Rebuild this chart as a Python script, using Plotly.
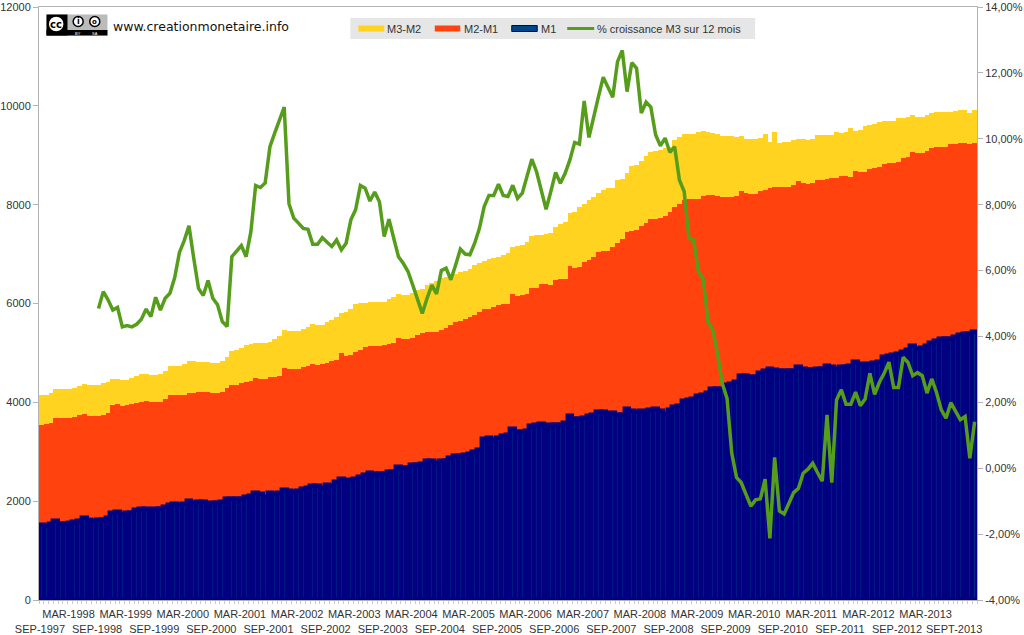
import numpy as np
import plotly.graph_objects as go

# niveaux, un point par mois depuis sep-1997
m1 = [1518,1498,1532,1592,1532,1532,1559,1579,1592,1653,
      1619,1599,1613,1626,1667,1754,1775,1741,1761,1768,
      1815,1842,1842,1815,1842,1842,1876,1930,1950,1930,
      1943,1997,1964,1984,1984,1950,1970,1970,1977,2038,
      2051,2051,2051,2078,2112,2159,2146,2085,2159,2139,
      2173,2233,2206,2193,2206,2240,2260,2314,2301,2267,
      2335,2314,2382,2456,2416,2429,2456,2490,2523,2577,
      2551,2551,2557,2584,2591,2692,2665,2665,2726,2739,
      2753,2807,2807,2766,2820,2820,2874,2921,2921,2928,
      2962,2996,3030,3266,3286,3232,3279,3313,3333,3455,
      3407,3407,3414,3515,3536,3556,3509,3542,3542,3536,
      3583,3725,3657,3657,3684,3725,3753,3800,3806,3725,
      3792,3752,3752,3860,3820,3806,3826,3806,3840,3873,
      3820,3772,3840,3907,3921,4028,4049,4076,4130,4157,
      4197,4278,4278,4278,4345,4379,4413,4528,4528,4514,
      4507,4595,4629,4683,4663,4642,4636,4636,4636,4717,
      4683,4649,4663,4683,4683,4737,4710,4683,4717,4717,
      4730,4818,4784,4750,4784,4798,4818,4919,4933,4953,
      4987,5020,5054,5142,5088,5101,5142,5202,5236,5277,
      5283,5290,5324,5371,5378,5378,5415]

m2 = [3545,3565,3590,3690,3680,3677,3680,3710,3735,3764,
      3724,3724,3724,3740,3791,3940,3960,3926,3940,3966,
      3993,4015,4020,4000,4000,4010,4060,4149,4149,4149,
      4149,4196,4185,4210,4210,4203,4183,4190,4210,4297,
      4351,4360,4390,4419,4440,4500,4480,4473,4507,4515,
      4540,4696,4669,4672,4680,4709,4736,4776,4763,4770,
      4803,4830,4860,5000,4945,4960,5013,5060,5114,5148,
      5145,5148,5160,5175,5195,5303,5290,5283,5300,5363,
      5397,5420,5431,5425,5465,5500,5560,5633,5650,5680,
      5720,5770,5830,5883,5895,5925,5960,5990,6000,6187,
      6153,6165,6200,6308,6310,6396,6385,6376,6477,6490,
      6495,6767,6713,6730,6848,6880,6950,7050,7060,7065,
      7151,7219,7307,7455,7470,7489,7560,7624,7705,7720,
      7740,7772,7860,7950,8015,8090,8109,8109,8120,8177,
      8197,8190,8177,8165,8163,8165,8177,8285,8240,8217,
      8217,8285,8300,8345,8350,8360,8366,8366,8400,8480,
      8440,8426,8440,8494,8500,8528,8535,8548,8582,8575,
      8568,8690,8656,8660,8723,8740,8770,8825,8835,8852,
      8855,8939,8973,9061,9040,9040,9094,9141,9175,9165,
      9175,9222,9230,9250,9250,9229,9250]

m3 = [4149,4155,4180,4264,4264,4264,4275,4300,4331,4372,
      4358,4358,4345,4385,4412,4473,4473,4459,4459,4500,
      4540,4567,4567,4554,4554,4574,4628,4729,4729,4736,
      4776,4830,4830,4817,4817,4817,4803,4803,4830,4918,
      5040,5060,5100,5154,5180,5208,5208,5208,5230,5276,
      5350,5458,5438,5438,5450,5490,5532,5579,5566,5570,
      5630,5660,5735,5815,5830,5883,5984,6018,6018,6030,
      6038,6038,6038,6085,6126,6193,6180,6166,6220,6274,
      6300,6376,6420,6450,6510,6540,6580,6598,6630,6660,
      6700,6770,6815,6870,6895,6915,6950,6985,7020,7138,
      7160,7185,7250,7367,7385,7395,7410,7435,7556,7600,
      7640,7826,7860,7950,8015,8096,8150,8243,8298,8333,
      8340,8501,8510,8642,8784,8800,8885,8993,9073,9085,
      9100,9148,9170,9310,9377,9425,9425,9428,9475,9492,
      9472,9450,9432,9398,9391,9385,9364,9398,9331,9328,
      9324,9340,9432,9276,9465,9256,9260,9276,9300,9337,
      9320,9310,9337,9412,9412,9412,9412,9465,9445,9480,
      9546,9499,9510,9594,9610,9640,9681,9690,9700,9700,
      9745,9762,9770,9810,9776,9783,9820,9864,9884,9875,
      9884,9880,9900,9917,9917,9850,9917]

# croissance M3 sur 12 mois, en %, commence en sep-1998
growth = [None]*12 + [
      4.85,5.36,5.11,4.80,4.88,4.29,4.33,4.29,4.37,4.52,
      4.83,4.60,5.19,4.80,5.16,5.31,5.79,6.55,6.91,7.36,
      6.37,5.46,5.24,5.70,5.16,4.96,4.45,4.30,6.42,6.58,
      6.76,6.42,7.18,8.58,8.52,8.66,9.76,10.17,10.57,10.96,
      8.03,7.59,7.44,7.28,7.25,6.80,6.80,7.00,6.86,6.73,
      6.93,6.63,6.83,7.54,7.85,8.58,8.50,8.11,8.38,8.09,
      7.03,7.56,6.98,6.42,6.22,5.97,5.56,5.11,4.70,5.16,
      5.56,5.29,6.00,6.07,5.72,6.17,6.65,6.50,6.48,6.83,
      7.28,7.94,8.28,8.28,8.62,8.28,8.25,8.59,8.19,8.35,
      8.85,9.38,9.00,8.40,7.86,8.40,8.98,8.65,8.95,9.36,
      9.89,9.84,11.15,10.04,10.72,11.28,11.87,11.58,11.26,12.34,
      12.68,11.43,12.31,12.14,10.78,11.11,10.96,10.12,9.79,10.02,
      9.59,9.76,8.75,8.40,6.98,6.93,5.97,5.75,4.45,4.20,
      3.49,2.58,2.12,0.45,-0.28,-0.44,-0.81,-1.15,-0.96,-0.93,
      -0.33,-2.13,0.33,-1.30,-1.39,-1.09,-0.74,-0.61,-0.15,-0.03,
      0.15,-0.13,-0.39,1.62,-0.44,2.07,2.38,1.94,1.94,2.31,
      1.90,2.10,2.88,2.24,2.61,2.88,3.22,2.45,2.45,3.37,
      3.21,2.81,2.90,2.81,2.28,2.71,2.30,1.77,1.52,1.99,
      1.72,1.47,1.57,0.30,1.41]

date_labels = ["SEP-1997","MAR-1998","SEP-1998","MAR-1999","SEP-1999","MAR-2000","SEP-2000",
               "MAR-2001","SEP-2001","MAR-2002","SEP-2002","MAR-2003","SEP-2003","MAR-2004",
               "SEP-2004","MAR-2005","SEP-2005","MAR-2006","SEP-2006","MAR-2007","SEP-2007",
               "MAR-2008","SEP-2008","MAR-2009","SEP-2009","MAR-2010","SEP-2010","MAR-2011",
               "SEP-2011","MAR-2012","SEP-2012","MAR-2013","SEPT-2013"]
left_ticks = [0,2000,4000,6000,8000,10000,12000]
left_labels = ["0","2000","4000","6000","8000","10000","12000"]
right_ticks = [-4,-2,0,2,4,6,8,10,12,14]
right_labels = ["-4,00%","-2,00%","0,00%","2,00%","4,00%","6,00%","8,00%","10,00%","12,00%","14,00%"]

YELLOW = "#ffd320"
ORANGE = "#ff420e"
BLUE = "#004586"
NAVY = "#000080"
GREEN = "#579d1c"
GREY = "#b3b3b3"
TEXT = "#333333"
FONT = "Liberation Sans"

months = list(range(len(m1)))
m1_arr, m2_arr, m3_arr = np.array(m1), np.array(m2), np.array(m3)

# tick text on two rows: september labels go on the lower one
tick_text = [("<br>" + t) if t.startswith("SEP") else t for t in date_labels]
# labels sit a little left of the bar centre in the original
tick_pos = [m - 0.3 for m in months[::6]]

L, R, T, B = 38.5, 977.0, 7.0, 600.0

def px(x):
    return (x - L) / (R - L)

def py(y):
    return (B - y) / (B - T)

fig = go.Figure()
fig.add_trace(go.Bar(x=months, y=m3_arr - m2_arr, base=m2, name="M3-M2", width=1,
                     marker=dict(color=YELLOW, line=dict(width=0))))
fig.add_trace(go.Bar(x=months, y=m2_arr - m1_arr, base=m1, name="M2-M1", width=1,
                     marker=dict(color=ORANGE, line=dict(width=0))))
fig.add_trace(go.Bar(x=months, y=m1, name="M1", width=1, cliponaxis=False,
                     marker=dict(color=BLUE, line=dict(width=4.4, color=NAVY))))
fig.add_trace(go.Scatter(x=months, y=growth, name="% croissance M3 sur 12 mois", yaxis="y2",
                         mode="lines", line=dict(color=GREEN, width=3.5)))

shapes = []
annots = []

def rect(x0, y0, x1, y1, fill, line=None):
    shapes.append(dict(type="rect", xref="paper", yref="paper", x0=px(x0), x1=px(x1), y0=py(y0), y1=py(y1),
                       fillcolor=fill, line=dict(width=1 if line else 0, color=line or fill)))

def circle(cx, cy, r, fill, line):
    shapes.append(dict(type="circle", xref="paper", yref="paper", x0=px(cx-r), x1=px(cx+r), y0=py(cy-r), y1=py(cy+r),
                       fillcolor=fill, line=dict(width=1.5, color=line)))

def label(x, y, text, size=11, color=TEXT, family=FONT, anchor="left"):
    annots.append(dict(xref="paper", yref="paper", x=px(x), y=py(y), text=text, showarrow=False, xanchor=anchor,
                       yanchor="middle", font=dict(size=size, color=color, family=family),
                       borderpad=0, borderwidth=0))

# legend box
rect(350, 18, 755, 39, "#e6e6e6")
rect(358, 25.5, 384, 31.5, YELLOW)
label(387, 28.5, "M3-M2")
rect(434.5, 25.5, 460, 31.5, ORANGE)
label(464, 28.5, "M2-M1")
rect(511.5, 25.5, 537, 31.5, BLUE, NAVY)
label(540.5, 28.5, "M1")
rect(567, 27, 594, 30, GREEN)
label(596.5, 28.5, "% croissance M3 sur 12 mois")

# licence badge + site
rect(46, 14.5, 107, 35.5, "#b9bcb8")
rect(46, 30, 107, 35.5, "#000000")
rect(46, 14.5, 67, 35.5, "#000000")
circle(55.7, 24, 8, "#ffffff", "#000000")
label(55.7, 24, "<b>cc</b>", size=10, color="#000000", family="DejaVu Sans", anchor="center")
circle(77.7, 21.5, 5, "#ffffff", "#000000")
label(77.7, 21.5, "<b>i</b>", size=8, color="#000000", family="DejaVu Sans", anchor="center")
circle(94.3, 21.5, 5, "#ffffff", "#000000")
label(94.3, 21.5, "<b>o</b>", size=7, color="#000000", family="DejaVu Sans", anchor="center")
label(77.7, 33, "BY", size=4, color="#ffffff", anchor="center")
label(94.3, 33, "SA", size=4, color="#ffffff", anchor="center")
label(112.5, 27, "www.creationmonetaire.info", size=12.5, color="#111111", family="DejaVu Sans")

fig.update_layout(
    width=1024, height=635,
    margin=dict(l=L, r=1024-R, t=T, b=635-B, pad=0, autoexpand=False),
    paper_bgcolor="white", plot_bgcolor="white",
    barmode="overlay", bargap=0, showlegend=False,
    font=dict(family=FONT, size=11, color=TEXT),
    shapes=shapes, annotations=annots,
    xaxis=dict(range=[-0.5, len(m1)-0.5], tickmode="array", tickvals=tick_pos, ticktext=tick_text,
               tickangle=0, ticks="", showgrid=False, zeroline=False, automargin=False, ticklabelstandoff=4,
               showline=True, linecolor=GREY, linewidth=1, mirror=True,
               minor=dict(tickmode="linear", tick0=-0.5, dtick=1, ticks="outside", ticklen=3, tickcolor="#cccccc", showgrid=False)),
    yaxis=dict(range=[0, 12000], tickmode="array", tickvals=left_ticks, ticktext=left_labels, ticks="outside", ticklen=5,
               tickcolor=GREY, showgrid=False, zeroline=False, showline=True, linecolor=GREY, linewidth=1, automargin=False),
    yaxis2=dict(range=[-4, 14], overlaying="y", side="right", tickmode="array", tickvals=right_ticks,
                ticktext=right_labels, ticks="outside", ticklen=5, tickcolor=GREY, showgrid=False,
                zeroline=False, showline=True, linecolor=GREY, linewidth=1, automargin=False),
)

# the page's default body margin would push everything 8px in
fig.write_html("out.html", config={"displayModeBar": False}, post_script="document.body.style.margin='0';")
